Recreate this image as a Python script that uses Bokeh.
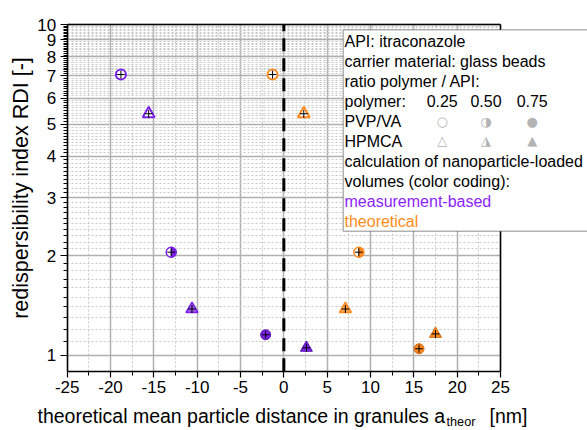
import math
from bokeh.plotting import figure
from bokeh.models import (Range1d, FixedTicker, PrintfTickFormatter, Label,
                          BoxAnnotation, LinearAxis, LogAxis)
from bokeh.embed import file_html
from bokeh.resources import INLINE

# ---------------- data ----------------
ratios = ["0.25", "0.50", "0.75"]
fills = ["open", "half", "full"]

# measurement-based (purple)
pvpva_meas_x = [-18.8, -13.0, -2.1]
pvpva_meas_y = [7.07, 2.05, 1.153]
hpmca_meas_x = [-15.6, -10.6, 2.6]
hpmca_meas_y = [5.38, 1.38, 1.053]
# theoretical (orange)
pvpva_theo_x = [-1.3, 8.65, 15.6]
pvpva_theo_y = [7.07, 2.05, 1.046]
hpmca_theo_x = [2.3, 7.1, 17.5]
hpmca_theo_y = [5.38, 1.38, 1.16]
# error bars
x_err = [0.45, 0.45, 0.45]
y_err_rel = [0.028, 0.028, 0.028]

x_lo, x_hi = -25, 25
y_lo, y_hi = 0.8945, 10
ref_x = 0
x_ticks = [-25, -20, -15, -10, -5, 0, 5, 10, 15, 20, 25]
x_minor = [-22.5, -17.5, -12.5, -7.5, -2.5, 2.5, 7.5, 12.5, 17.5, 22.5]
y_ticks = [1, 2, 3, 4, 5, 6, 7, 8, 9, 10]
y_minor = [round(d + k / 10, 1) for d in range(1, 10) for k in range(1, 10)]

legend_lines = ["API: itraconazole", "carrier material: glass beads",
                "ratio polymer / API:", "polymer:", "PVP/VA", "HPMCA",
                "calculation of nanoparticle-loaded", "volumes (color coding):",
                "measurement-based", "theoretical"]
x_label_main = "theoretical mean particle distance in granules a"
x_label_sub = "theor"
x_label_tail = "[nm]"
y_label = "redispersibility index RDI [-]"

PURPLE = "#7B22E8"
PURPLE_T = "#8C1EFF"
ORANGE = "#FF8A1F"
ORANGE_T = "#FF8C1A"
GRAY = "#b4b4b4"
FONT = "Liberation Sans"

W, H = 587, 430
# pixel placement of the axes box inside the canvas
AX_L, AX_R, AX_T, AX_B = 66.7, 500.0, 24.3, 370.7
ppx = (AX_R - AX_L) / (x_hi - x_lo)
ppd = (AX_B - AX_T) / (math.log10(y_hi) - math.log10(y_lo))
xr = Range1d(x_lo - AX_L / ppx, x_hi + (W - AX_R) / ppx)
yr = Range1d(10 ** (math.log10(y_lo) - (H - AX_B) / ppd), 10 ** (math.log10(y_hi) + AX_T / ppd))

p = figure(width=W, height=H, output_backend="svg", toolbar_location=None,
           x_range=xr, y_range=yr, y_axis_type="log",
           min_border=0, min_border_left=0, min_border_right=0,
           min_border_top=0, min_border_bottom=0)
p.outline_line_color = None
p.background_fill_color = "white"
p.border_fill_color = "white"

xax = p.xaxis[0]
yax = p.yaxis[0]
xax.fixed_location = y_lo
xax.bounds = (x_lo, x_hi)
yax.fixed_location = x_lo
yax.bounds = (y_lo, y_hi)

for ax, ticks, minor in ((xax, x_ticks, x_minor), (yax, y_ticks, y_minor)):
    ax.ticker = FixedTicker(ticks=ticks, minor_ticks=minor)
    ax.formatter = PrintfTickFormatter(format="%d")
    ax.axis_line_color = "black"
    ax.axis_line_width = 1.5
    ax.major_tick_line_color = "black"
    ax.minor_tick_line_color = "black"
    ax.major_tick_line_width = 1.2
    ax.major_tick_in = 0
    ax.minor_tick_in = 0
    ax.major_label_text_font = FONT
    ax.major_label_text_font_size = "17px"
    ax.major_label_text_color = "black"
    ax.major_label_standoff = 4
xax.major_tick_out = 6
xax.minor_tick_out = 4
yax.major_tick_out = 7
yax.minor_tick_out = 4

xg = p.xgrid[0]
yg = p.ygrid[0]
xg.ticker = xax.ticker
yg.ticker = yax.ticker
xg.bounds = (x_lo, x_hi)
xg.cross_bounds = (y_lo, y_hi)
yg.bounds = (y_lo, y_hi)
yg.cross_bounds = (x_lo, x_hi)
for g in (xg, yg):
    g.grid_line_color = "#b0b0b0"
    g.grid_line_width = 1.5
    g.minor_grid_line_color = "#c8c8c8"
    g.minor_grid_line_dash = "2 2"
    g.minor_grid_line_width = 1

# frame lines top and right
top_ax = LinearAxis(fixed_location=y_hi, bounds=(x_lo, x_hi), ticker=FixedTicker(ticks=[]),
                    major_tick_out=0, minor_tick_out=0, major_tick_in=0, minor_tick_in=0,
                    axis_line_width=1.5)
right_ax = LogAxis(fixed_location=x_hi, bounds=(y_lo, y_hi), ticker=FixedTicker(ticks=[]),
                   major_tick_out=0, minor_tick_out=0, major_tick_in=0, minor_tick_in=0,
                   axis_line_width=1.5)
p.add_layout(top_ax, "above")
p.add_layout(right_ax, "right")

# dashed reference line at x = 0
p.segment([ref_x], [y_lo], [ref_x], [y_hi], line_color="black", line_width=3,
          line_dash="13 7")


def draw(xs, ys, kind, color, edge):
    for i in range(len(xs)):
        x, y, f = xs[i], ys[i], fills[i]
        if kind == "circle":
            if f == "open":
                p.scatter([x], [y], marker="circle", size=10, fill_color="white",
                          line_color=color, line_width=2)
            elif f == "half":
                p.scatter([x], [y], marker="circle", size=10, fill_color="white",
                          line_color=color, line_width=1.5)
                p.wedge([x], [y], radius=5, radius_units="screen",
                        start_angle=-math.pi / 2, end_angle=math.pi / 2,
                        fill_color=color, line_color=color)
            else:
                p.scatter([x], [y], marker="circle", size=10, fill_color=color,
                          line_color=edge, line_width=1)
        else:
            if f == "open":
                p.scatter([x], [y], marker="triangle", size=12, fill_color="white",
                          line_color=color, line_width=2)
            elif f == "half":
                p.scatter([x], [y], marker="triangle", size=12, fill_color=color,
                          fill_alpha=0.75, line_color=color, line_width=1.5)
            else:
                p.scatter([x], [y], marker="triangle", size=12, fill_color=color,
                          line_color=edge, line_width=1)
        p.segment([x - x_err[i]], [y], [x + x_err[i]], [y], line_color="black", line_width=1)
        p.segment([x], [y * (1 - y_err_rel[i])], [x], [y * (1 + y_err_rel[i])],
                  line_color="black", line_width=1)


draw(pvpva_meas_x, pvpva_meas_y, "circle", PURPLE, "#5a10b0")
draw(hpmca_meas_x, hpmca_meas_y, "triangle", PURPLE, "#5a10b0")
draw(pvpva_theo_x, pvpva_theo_y, "circle", ORANGE, "#d06a10")
draw(hpmca_theo_x, hpmca_theo_y, "triangle", ORANGE, "#d06a10")


def sy(py):
    return H - py


# legend box (canvas units)
p.add_layout(BoxAnnotation(left=342.7, right=W + 20, top=29.3, bottom=230.7,
                           left_units="canvas", right_units="canvas",
                           top_units="canvas", bottom_units="canvas",
                           fill_color="white", fill_alpha=1.0,
                           line_color="black", line_width=1.5, level="annotation"))

line_colors = ["black"] * 8 + [PURPLE_T, ORANGE_T]
for i, t in enumerate(legend_lines):
    p.add_layout(Label(x=344, y=sy(40.5 + 20.1 * i), x_units="screen", y_units="screen",
                       text=t, text_font=FONT, text_font_size="16px",
                       text_color=line_colors[i], text_baseline="middle", text_align="left"))
ratio_x = [441.7, 485.5, 531.7]
for j, r in enumerate(ratios):
    p.add_layout(Label(x=ratio_x[j], y=sy(100.8), x_units="screen", y_units="screen",
                       text=r, text_font=FONT, text_font_size="16px",
                       text_color="black", text_baseline="middle", text_align="center"))
circle_syms = ["\u25CB", "\u25D1", "\u25CF"]
tri_syms = ["\u25B3", "\u25EE", "\u25B2"]
for j in range(3):
    p.add_layout(Label(x=ratio_x[j], y=sy(120.5), x_units="screen", y_units="screen",
                       text=circle_syms[j], text_font="DejaVu Sans", text_font_size="13px",
                       text_color=GRAY, text_baseline="middle", text_align="center"))
    p.add_layout(Label(x=ratio_x[j], y=sy(140), x_units="screen", y_units="screen",
                       text=tri_syms[j], text_font="DejaVu Sans", text_font_size="13px",
                       text_color=GRAY, text_baseline="middle", text_align="center"))

# axis titles
p.add_layout(Label(x=20, y=sy(187.5), x_units="screen", y_units="screen", angle=math.pi / 2,
                   text=y_label, text_font=FONT, text_font_size="21.5px",
                   text_color="black", text_baseline="middle", text_align="center"))
main_size = 19.5
x0 = 37
p.add_layout(Label(x=x0, y=sy(415), x_units="screen", y_units="screen",
                   text=x_label_main, text_font=FONT, text_font_size=f"{main_size}px",
                   text_color="black", text_baseline="middle", text_align="left"))
p.add_layout(Label(x=446, y=sy(421), x_units="screen", y_units="screen",
                   text=x_label_sub, text_font=FONT, text_font_size="12.7px",
                   text_color="black", text_baseline="middle", text_align="left"))
p.add_layout(Label(x=527, y=sy(415), x_units="screen", y_units="screen",
                   text=x_label_tail, text_font=FONT, text_font_size=f"{main_size}px",
                   text_color="black", text_baseline="middle", text_align="right"))

open("out.html", "w").write(file_html(p, INLINE))
